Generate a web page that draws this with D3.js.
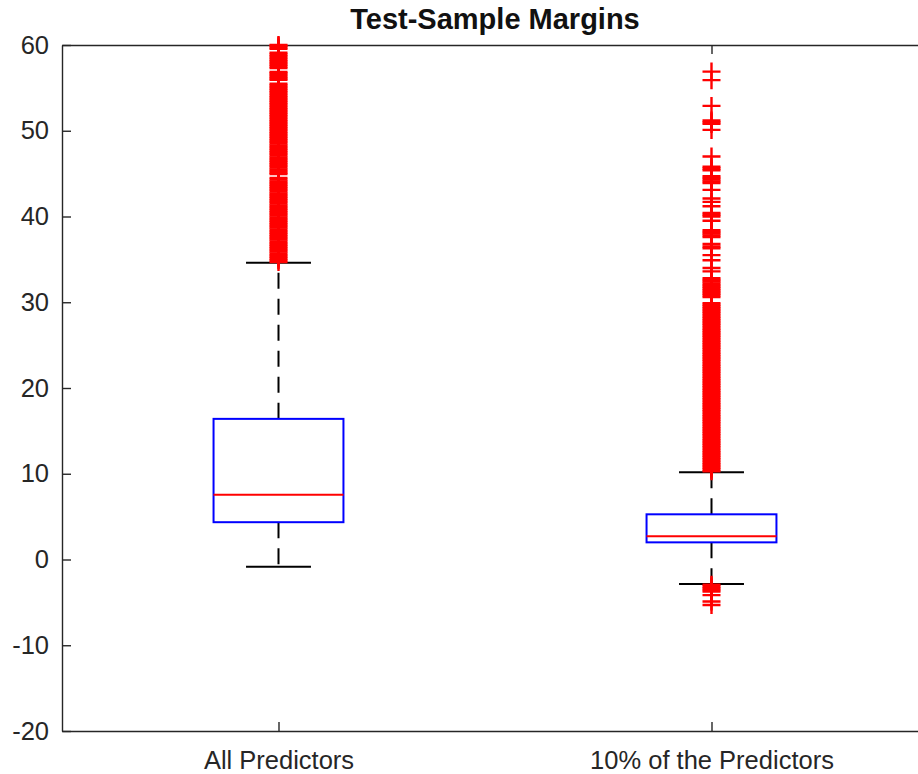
<!DOCTYPE html>
<html>
<head>
<meta charset="utf-8">
<script src="https://cdn.jsdelivr.net/npm/d3@7"></script>
<style>
    html, body { margin: 0; padding: 0; background: #fff; }
    .boxplot { width: 918px; height: 774px; overflow: hidden; }
    text { font-family: "Liberation Sans", Arial, Helvetica, sans-serif; }
</style>
</head>
<body>
<div class="boxplot"></div>
<script>
const categories = ['All Predictors', '10% of the Predictors'];
const lowerWhisker = [-0.85, -2.86];
const q1 = [4.35, 2.0];
const medians = [7.55, 2.7];
const q3 = [16.4, 5.27];
const upperWhisker = [34.6, 10.17];
const yTicks = [-20, -10, 0, 10, 20, 30, 40, 50, 60];

// outliers (the tall red columns are dense runs of '+')
const outliersAll = [
    34.7, 34.9, 35.1, 35.3, 35.5, 35.7, 35.9, 36.1, 36.3, 36.5, 36.7, 36.9, 37.1, 37.3, 37.5, 37.7,
    37.9, 38.1, 38.3, 38.5, 38.7, 38.9, 39.1, 39.3, 39.5, 39.7, 39.9, 40.1, 40.3, 40.5, 40.7, 40.9,
    41.1, 41.3, 41.5, 41.7, 41.9, 42.1, 42.3, 42.5, 42.7, 42.9, 43.1, 43.3, 43.5, 43.7, 43.9, 44.1,
    44.3, 44.5, 44.95, 45.1, 45.3, 45.5, 45.7, 45.9, 46.1, 46.3, 46.5, 46.7, 46.9, 47.1, 47.3, 47.5,
    47.7, 47.9, 48.1, 48.3, 48.5, 48.7, 48.9, 49.1, 49.3, 49.5, 49.7, 49.9, 50.1, 50.3, 50.5, 50.7,
    50.9, 51.1, 51.3, 51.5, 51.7, 51.9, 52.1, 52.3, 52.5, 52.7, 52.9, 53.1, 53.3, 53.5, 53.7, 53.9,
    54.1, 54.3, 54.5, 54.7, 54.9, 55.1, 55.3, 55.5, 55.95, 56.1, 56.3, 56.5, 56.7, 56.85, 57.3, 57.5,
    57.7, 57.9, 58.1, 58.3, 58.5, 58.7, 58.9, 59.1, 59.55, 59.7, 59.9, 60.0
];

const outliersTenPct = [
    -5.3, -4.9, -4.15, -3.75, -3.55, -3.35, -3.15, -2.95,
    10.3, 10.5, 10.7, 10.9, 11.1, 11.3, 11.5, 11.7, 11.9, 12.1, 12.3, 12.5, 12.7, 12.9, 13.1, 13.3,
    13.5, 13.7, 13.9, 14.1, 14.3, 14.5, 14.7, 14.9, 15.1, 15.3, 15.5, 15.7, 15.9, 16.1, 16.3, 16.5,
    16.7, 16.9, 17.1, 17.3, 17.5, 17.7, 17.9, 18.1, 18.3, 18.5, 18.7, 18.9, 19.1, 19.3, 19.5, 19.7,
    19.9, 20.1, 20.3, 20.5, 20.7, 20.9, 21.1, 21.3, 21.5, 21.7, 21.9, 22.1, 22.3, 22.5, 22.7, 22.9,
    23.1, 23.3, 23.5, 23.7, 23.9, 24.1, 24.3, 24.5, 24.7, 24.9, 25.1, 25.3, 25.5, 25.7, 25.9, 26.1,
    26.3, 26.5, 26.7, 26.9, 27.1, 27.3, 27.5, 27.7, 27.9, 28.1, 28.3, 28.5, 28.7, 28.9, 29.1, 29.3,
    29.5, 29.7, 29.9, 30.6, 30.8, 31.0, 31.2, 31.4, 31.6, 31.8, 32.0, 32.2, 32.4, 32.6, 32.8, 33.6,
    34.0, 34.9, 35.5, 36.3, 36.5, 36.8, 37.6, 37.8, 38.0, 38.2, 38.4, 39.5, 40.0, 40.2, 40.4, 41.2,
    41.7, 42.1, 43.1, 43.9, 44.1, 44.3, 44.5, 44.7, 45.4, 45.6, 45.8, 47.0, 50.1, 50.8, 51.0, 51.2,
    52.9, 55.9, 56.9
];

const outliers = [outliersAll, outliersTenPct];

const width = 918;
const height = 774;
const axisColor = '#262626';
const margin = { left: 62, right: 928, top: 45, bottom: 731 };

renderBoxPlot();

function renderBoxPlot() {
    const svg = d3.select('.boxplot').append('svg')
        .attr('width', width)
        .attr('height', height);

    const xScale = d3.scaleLinear()
        .domain([0.5, 2.5])
        .range([margin.left, margin.right]);

    const yScale = d3.scaleLinear()
        .domain([-20, 60])
        .range([margin.bottom, margin.top]);

    const boxHalf = 0.15;
    const capHalf = 0.075;
    const markerHalf = 9;

    // axes, ticks pointing inward like matlab
    svg.append('g')
        .attr('class', 'y-axis')
        .attr('transform', `translate(${margin.left}, 0)`)
        .call(d3.axisLeft(yScale).tickValues(yTicks).tickSizeInner(-9).tickSizeOuter(0).tickPadding(13)
            .tickFormat(d => String(d)));

    svg.append('g')
        .attr('class', 'y-axis-right')
        .attr('transform', `translate(${margin.right}, 0)`)
        .call(d3.axisRight(yScale).tickValues(yTicks).tickSizeInner(-9).tickSizeOuter(0).tickFormat(''));

    svg.append('g')
        .attr('class', 'x-axis')
        .attr('transform', `translate(0, ${margin.bottom})`)
        .call(d3.axisBottom(xScale).tickValues([1, 2]).tickSizeInner(-9).tickSizeOuter(0).tickPadding(20)
            .tickFormat(d => categories[d - 1]));

    svg.append('g')
        .attr('class', 'x-axis-top')
        .attr('transform', `translate(0, ${margin.top})`)
        .call(d3.axisTop(xScale).tickValues([1, 2]).tickSizeInner(-9).tickSizeOuter(0).tickFormat(''));

    svg.selectAll('.domain, .tick line')
        .attr('stroke', axisColor)
        .attr('stroke-width', 1.4);

    svg.selectAll('.tick text')
        .attr('fill', axisColor)
        .style('font-size', '25.5px');

    svg.append('text')
        .attr('x', (margin.left + margin.right) / 2)
        .attr('y', 29)
        .attr('text-anchor', 'middle')
        .style('font-size', '29px')
        .style('font-weight', 'bold')
        .attr('fill', '#111')
        .text('Test-Sample Margins');

    const groups = svg.selectAll('.box')
        .data(categories)
        .enter().append('g')
        .attr('class', 'box');

    // dashed whiskers
    groups.append('line')
        .attr('x1', (d, i) => xScale(i + 1))
        .attr('x2', (d, i) => xScale(i + 1))
        .attr('y1', (d, i) => yScale(q3[i]))
        .attr('y2', (d, i) => yScale(upperWhisker[i]))
        .attr('stroke', '#000')
        .attr('stroke-width', 2)
        .attr('stroke-dasharray', '16,10');

    groups.append('line')
        .attr('x1', (d, i) => xScale(i + 1))
        .attr('x2', (d, i) => xScale(i + 1))
        .attr('y1', (d, i) => yScale(q1[i]))
        .attr('y2', (d, i) => yScale(lowerWhisker[i]))
        .attr('stroke', '#000')
        .attr('stroke-width', 2)
        .attr('stroke-dasharray', '16,10');

    // caps
    [upperWhisker, lowerWhisker].forEach(w => {
        groups.append('line')
            .attr('x1', (d, i) => xScale(i + 1 - capHalf))
            .attr('x2', (d, i) => xScale(i + 1 + capHalf))
            .attr('y1', (d, i) => yScale(w[i]))
            .attr('y2', (d, i) => yScale(w[i]))
            .attr('stroke', '#000')
            .attr('stroke-width', 2);
    });

    groups.append('rect')
        .attr('x', (d, i) => xScale(i + 1 - boxHalf))
        .attr('width', (d, i) => xScale(i + 1 + boxHalf) - xScale(i + 1 - boxHalf))
        .attr('y', (d, i) => yScale(q3[i]))
        .attr('height', (d, i) => yScale(q1[i]) - yScale(q3[i]))
        .attr('fill', 'none')
        .attr('stroke', '#0000ff')
        .attr('stroke-width', 2);

    groups.append('line')
        .attr('x1', (d, i) => xScale(i + 1 - boxHalf))
        .attr('x2', (d, i) => xScale(i + 1 + boxHalf))
        .attr('y1', (d, i) => yScale(medians[i]))
        .attr('y2', (d, i) => yScale(medians[i]))
        .attr('stroke', '#ff0000')
        .attr('stroke-width', 2);

    // outlier '+' markers
    groups.each(function (d, i) {
        const g = d3.select(this);
        const cx = xScale(i + 1);
        g.selectAll('.outlier')
            .data(outliers[i])
            .enter().append('path')
            .attr('class', 'outlier')
            .attr('d', v => {
                const cy = yScale(v);
                return `M${cx - markerHalf},${cy}H${cx + markerHalf}M${cx},${cy - markerHalf}V${cy + markerHalf}`;
            })
            .attr('fill', 'none')
            .attr('stroke', '#ff0000')
            .attr('stroke-width', 2.4);
    });
}
</script>
</body>
</html>
